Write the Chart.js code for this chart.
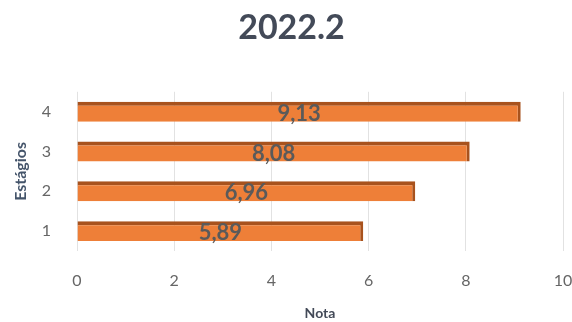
<!DOCTYPE html>
<html lang="pt">
<head>
<meta charset="UTF-8">
<title>2022.2</title>
<style>
    html, body { margin: 0; padding: 0; background: #fff; }
    .wrap { width: 572px; height: 322px; }
</style>
</head>
<body>
<div class="wrap"><canvas id="grafico"></canvas></div>
<script src="https://cdn.jsdelivr.net/npm/chart.js"></script>
<script>
    // dados do gráfico
    const estagios = ['1', '2', '3', '4'];
    const notas = [5.89, 6.96, 8.08, 9.13];
    const ticksNota = [0, 2, 4, 6, 8, 10];

    // rótulos no meio da barra, com vírgula
    const rotulos = {
        id: 'rotulos',
        afterDatasetsDraw(chart) {
            const ctx = chart.ctx;
            const meta = chart.getDatasetMeta(0);
            ctx.save();
            ctx.font = 'bold 22px Lato';
            ctx.fillStyle = '#5a5a5a';
            ctx.textAlign = 'center';
            ctx.textBaseline = 'middle';
            meta.data.forEach((bar, i) => {
                const cx = (bar.x + bar.base) / 2;
                ctx.fillText(notas[i].toFixed(2).replace('.', ','), cx, bar.y + 2);
            });
            ctx.restore();
        }
    };

    new Chart(document.getElementById('grafico'), {
        type: 'bar',
        data: {
            labels: estagios,
            datasets: [{
                data: notas,
                backgroundColor: '#ee7f38',
                borderColor: '#a8521d',
                borderWidth: { top: 4, right: 3, bottom: 0, left: 0 },
                borderSkipped: false,
                categoryPercentage: 1,
                barPercentage: 0.5
            }]
        },
        options: {
            indexAxis: 'y',
            responsive: true,
            maintainAspectRatio: false,
            animation: false,
            layout: { padding: { left: 11, right: 0, top: 0, bottom: 0 } },
            plugins: {
                legend: { display: false },
                tooltip: { enabled: false },
                title: {
                    display: true,
                    text: '2022.2',
                    color: '#434a58',
                    font: { family: 'Lato', size: 34, weight: 'bold' },
                    padding: { top: 8, bottom: 43 }
                }
            },
            scales: {
                x: {
                    min: 0,
                    max: 10,
                    afterBuildTicks(axis) {
                        axis.ticks = ticksNota.map(v => ({ value: v }));
                    },
                    afterFit(axis) {
                        axis.paddingRight = 9;
                    },
                    grid: { color: '#e2e2e2', drawTicks: false },
                    border: { display: false },
                    ticks: {
                        color: '#666',
                        padding: 20,
                        font: { family: 'Lato', size: 16 }
                    },
                    title: {
                        display: true,
                        text: 'Nota',
                        color: '#434a58',
                        font: { family: 'Lato', size: 14, weight: 'bold' },
                        padding: { top: -5, bottom: 0 }
                    }
                },
                y: {
                    reverse: true,
                    afterFit(axis) {
                        axis.width = 66;
                    },
                    grid: { display: false, drawTicks: false },
                    border: { display: false },
                    ticks: {
                        color: '#666',
                        padding: 26,
                        font: { family: 'Lato', size: 16 }
                    },
                    title: {
                        display: true,
                        text: 'Estágios',
                        color: '#44546a',
                        font: { family: 'Lato', size: 16, weight: 'bold' },
                        padding: { top: 0, bottom: 12 }
                    }
                }
            }
        },
        plugins: [rotulos]
    });
</script>
</body>
</html>
